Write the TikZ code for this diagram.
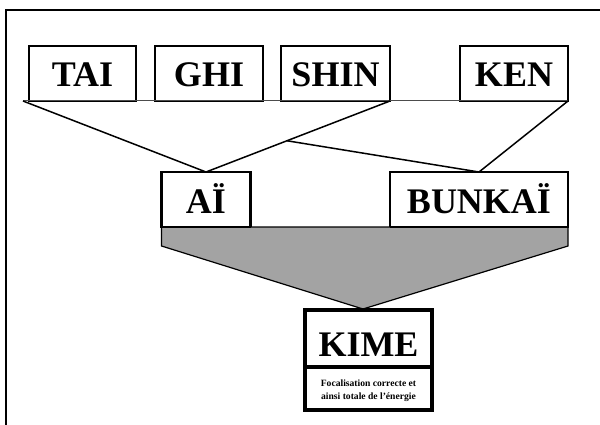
\documentclass[tikz,border=0pt]{standalone}
\usepackage{fontspec}
\setmainfont{Liberation Serif}
\usetikzlibrary{calc}
\begin{document}
\begin{tikzpicture}[x=1pt,y=-1pt,
  bigbox/.style={draw,line width=2.8pt,fill=white,inner sep=0pt,outer sep=0pt,
    minimum height=55pt,font=\bfseries\fontsize{36}{36}\selectfont,
    text height=27pt,text depth=0pt},
  conn/.style={line width=1.5pt},
  thick3/.style={draw,line width=3.4pt,fill=white,inner sep=0pt,outer sep=0pt}]
\useasboundingbox (0,0) rectangle (600,425);
% frame
\draw[line width=2.8pt] (6,425) -- (6,10) -- (602,10);
% top row
\coordinate (L) at (23,101);
\node[bigbox,minimum width=107pt] (tai) at (82.5,73.5) {TAI};
\node[bigbox,minimum width=108pt] (ghi) at (209,73.5) {GHI};
\node[bigbox,minimum width=109pt] (shin) at (335.5,73.5) {SHIN};
\node[bigbox,minimum width=108pt] (ken) at (514,73.5) {KEN};
% middle row
\node[bigbox,minimum width=89pt] (ai) at (206,199.5) {AÏ};
\node[bigbox,minimum width=178pt] (bunkai) at (479,199.5) {BUNKAÏ};
% connectors
\draw[line width=1pt,black!70] (L) -- (ken.south east);
\draw[conn] (L) -- (ai.north);
\draw[conn] (shin.south east) -- (ai.north);
\coordinate (J) at ($(shin.south east)!0.56!(ai.north)$);
\draw[conn] (J) -- (bunkai.north);
\draw[conn] (ken.south east) -- (bunkai.north);
% funnel
\coordinate (apex) at (363,309);
\filldraw[fill=black!36,draw=black,line width=1.2pt]
  (ai.south west) -- (bunkai.south east) -- ($(bunkai.south east)+(0,19)$)
  -- (apex) -- ($(ai.south west)+(0,19)$) -- cycle;
\draw[line width=2.8pt] (ai.south west) -- (ai.south east);
\draw[line width=2.8pt] (bunkai.south west) -- (bunkai.south east);
% KIME
\node[thick3,minimum width=127pt,minimum height=57pt,
  font=\bfseries\fontsize{36}{36}\selectfont,text height=36pt,text depth=0pt]
  (kime) at (368.5,338.5) {KIME};
\node[thick3,minimum width=127pt,minimum height=43pt,align=center,
  font=\bfseries\fontsize{9.6}{13}\selectfont,text height=21pt,text depth=0pt]
  (desc) at (368.5,388.5) {Focalisation correcte et\\ainsi totale de l’énergie};
\end{tikzpicture}
\end{document}
